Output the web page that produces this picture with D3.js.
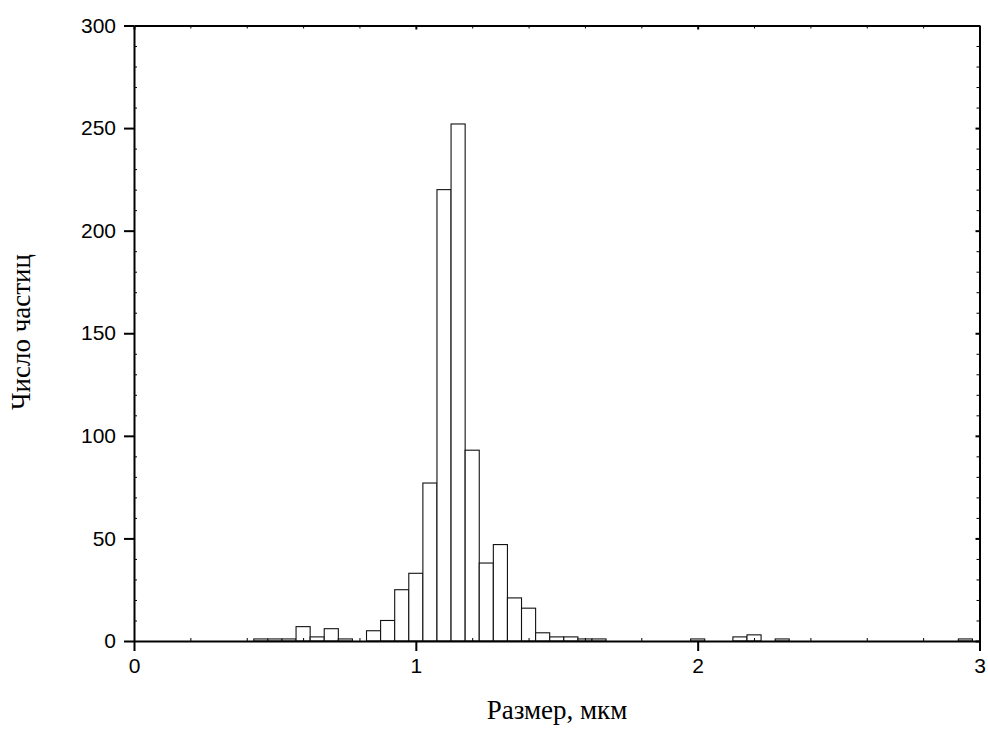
<!DOCTYPE html>
<html>
<head>
<meta charset="utf-8">
<script src="https://cdn.jsdelivr.net/npm/d3@7"></script>
<style>
  html, body { margin: 0; padding: 0; background: #fff; }
  svg { display: block; }
</style>
</head>
<body>
<svg id="chart" width="988" height="731"></svg>
<script>
// ---- data ----
const binWidth = 0.05;
const binCenters = [0.45,0.50,0.55,0.60,0.65,0.70,0.75,0.80,0.85,0.90,0.95,1.00,1.05,1.10,1.15,1.20,1.25,1.30,1.35,1.40,1.45,1.50,1.55,1.60,1.65,
                    2.00,2.15,2.20,2.30,2.95];
const counts     = [1,1,1,7,2,6,1,0,5,10,25,33,77,220,252,93,38,47,21,16,4,2,2,1,1,
                    1,2,3,1,1];
const xTicks = [0,1,2,3];
const yTicks = [0,50,100,150,200,250,300];
const xMinor = d3.range(0, 3.0001, 0.2).filter(v => Math.abs(v - Math.round(v)) > 1e-6);
const yMinor = d3.range(0, 301, 10).filter(v => v % 50 !== 0);
const xLabel = "Размер, мкм";
const yLabel = "Число частиц";

// ---- layout ----
const L = 134, R = 979.5, T = 25.5, B = 641;
const svg = d3.select("#chart");
const x = d3.scaleLinear().domain([0, 3]).range([L, R]);
const y = d3.scaleLinear().domain([0, 300]).range([B, T]);

const data = binCenters.map((c, i) => ({c, v: counts[i]}));

// bars
svg.append("g").selectAll("rect").data(data.filter(d => d.v > 0)).join("rect")
  .attr("x", d => x(d.c - binWidth/2))
  .attr("width", d => x(d.c + binWidth/2) - x(d.c - binWidth/2))
  .attr("y", d => y(d.v))
  .attr("height", d => y(0) - y(d.v))
  .attr("fill", "#fff")
  .attr("stroke", "#111")
  .attr("stroke-width", 1.1);

// axes
const tickFont = "Liberation Sans, Arial, sans-serif";
function styleAxis(g, fontSize) {
  g.selectAll("path.domain").attr("stroke", "#000").attr("stroke-width", 2);
  g.selectAll(".tick line").attr("stroke", "#000").attr("stroke-width", 2);
  g.selectAll(".tick text").attr("fill", "#000").style("font-family", tickFont).style("font-size", fontSize + "px");
}
function styleMinor(g) {
  g.selectAll("path.domain").remove();
  g.selectAll(".tick line").attr("stroke", "#000").attr("stroke-width", 1);
  g.selectAll(".tick text").remove();
}

// bottom
const gB = svg.append("g").attr("transform", `translate(0,${B})`)
  .call(d3.axisBottom(x).tickValues(xTicks).tickFormat(d3.format("d")).tickSize(10).tickSizeOuter(0).tickPadding(7));
styleAxis(gB, 21);
svg.append("g").attr("transform", `translate(0,${B})`)
  .call(d3.axisBottom(x).tickValues(xMinor).tickSize(-3)).call(styleMinor);

// left
const gL = svg.append("g").attr("transform", `translate(${L},0)`)
  .call(d3.axisLeft(y).tickValues(yTicks).tickFormat(d3.format("d")).tickSize(10).tickSizeOuter(0).tickPadding(8));
styleAxis(gL, 21);
svg.append("g").attr("transform", `translate(${L},0)`)
  .call(d3.axisLeft(y).tickValues(yMinor).tickSize(-3)).call(styleMinor);

// top
const gT = svg.append("g").attr("transform", `translate(0,${T})`)
  .call(d3.axisTop(x).tickValues(xTicks).tickFormat("").tickSize(-4).tickSizeOuter(0));
styleAxis(gT, 21);
svg.append("g").attr("transform", `translate(0,${T})`)
  .call(d3.axisTop(x).tickValues(xMinor).tickSize(-3)).call(styleMinor);

// right
const gR = svg.append("g").attr("transform", `translate(${R},0)`)
  .call(d3.axisRight(y).tickValues(yTicks).tickFormat("").tickSize(-4).tickSizeOuter(0));
styleAxis(gR, 21);
svg.append("g").attr("transform", `translate(${R},0)`)
  .call(d3.axisRight(y).tickValues(yMinor).tickSize(-3)).call(styleMinor);

// axis titles
const titleFont = "Liberation Serif, 'Times New Roman', serif";
svg.append("text")
  .attr("x", 557).attr("y", 719)
  .attr("text-anchor", "middle")
  .style("font-family", titleFont).style("font-size", "27px").attr("fill", "#000")
  .text(xLabel);
svg.append("text")
  .attr("transform", `translate(30,332) rotate(-90)`)
  .attr("text-anchor", "middle")
  .style("font-family", titleFont).style("font-size", "27px").attr("fill", "#000")
  .text(yLabel);
</script>
</body>
</html>
